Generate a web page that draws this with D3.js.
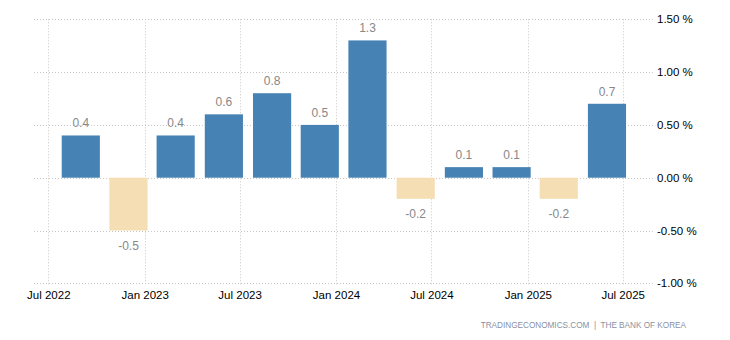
<!DOCTYPE html>
<html>
<head>
<meta charset="utf-8">
<script src="https://cdn.jsdelivr.net/npm/d3@7"></script>
<style>
  html, body { margin: 0; padding: 0; background: #fff; }
  svg { display: block; font-family: "Liberation Sans", Arial, sans-serif; }
</style>
</head>
<body>
<svg id="chart" width="730" height="340"></svg>
<script>
// Quarterly GDP growth rate, South Korea (QoQ, %)
const quarters = ["2022Q3", "2022Q4", "2023Q1", "2023Q2", "2023Q3", "2023Q4",
                  "2024Q1", "2024Q2", "2024Q3", "2024Q4", "2025Q1", "2025Q2"];
const growth = [0.4, -0.5, 0.4, 0.6, 0.8, 0.5, 1.3, -0.2, 0.1, 0.1, -0.2, 0.7];
const xTickDates = ["2022-07-01", "2023-01-01", "2023-07-01", "2024-01-01",
                    "2024-07-01", "2025-01-01", "2025-07-01"];
const xTickLabels = ["Jul 2022", "Jan 2023", "Jul 2023", "Jan 2024",
                     "Jul 2024", "Jan 2025", "Jul 2025"];
const yTicks = [-1.0, -0.5, 0.0, 0.5, 1.0, 1.5];
const sourceText = "TRADINGECONOMICS.COM  |  THE BANK OF KOREA";

// each quarter's bar is centred on the first day of its last month
function quarterDate(q) {
  const year = +q.slice(0, 4), n = +q.slice(5);
  return new Date(Date.UTC(year, n * 3 - 1, 1));
}

// plain hyphen for negatives
const fmt = spec => { const f = d3.format(spec); return v => f(v).replace("\u2212", "-"); };
const fmt1 = fmt(".1f");
const fmt2 = fmt(".2f");

const data = quarters.map((q, i) => ({ q, date: quarterDate(q), v: growth[i] }));
const tickDates = xTickDates.map(s => new Date(s + "T00:00:00Z"));

const svg = d3.select("#chart");
const plot = { left: 34, right: 653, top: 19.3, bottom: 283.3 };

const x = d3.scaleUtc()
  .domain([tickDates[0], tickDates[tickDates.length - 1]])
  .range([48.3, 622.7]);
const y = d3.scaleLinear()
  .domain([d3.min(yTicks), d3.max(yTicks)])
  .range([plot.bottom, plot.top]);

const step = x(data[1].date) - x(data[0].date);
const barW = step * 0.8;

const gridColor = "#c8c8c8";

// horizontal grid
svg.append("g").selectAll("line").data(yTicks).join("line")
  .attr("x1", plot.left).attr("x2", plot.right)
  .attr("y1", d => Math.round(y(d)) + 0.5).attr("y2", d => Math.round(y(d)) + 0.5)
  .attr("stroke", gridColor).attr("stroke-width", 1)
  .attr("stroke-dasharray", "1,2");

// vertical grid at tick dates
svg.append("g").selectAll("line").data(tickDates).join("line")
  .attr("x1", d => Math.round(x(d)) + 0.5).attr("x2", d => Math.round(x(d)) + 0.5)
  .attr("y1", plot.top).attr("y2", plot.bottom + 1)
  .attr("stroke", gridColor).attr("stroke-width", 1)
  .attr("stroke-dasharray", "1,2");

// bars
svg.append("g").selectAll("rect").data(data).join("rect")
  .attr("x", d => x(d.date) - barW / 2)
  .attr("width", barW)
  .attr("y", d => y(Math.max(0, d.v)))
  .attr("height", d => Math.abs(y(d.v) - y(0)))
  .attr("fill", d => d.v >= 0 ? "#4682b4" : "#f5deb3");

// value labels
svg.append("g").selectAll("text").data(data).join("text")
  .attr("x", d => x(d.date))
  .attr("y", d => d.v >= 0 ? y(d.v) - 8 : y(d.v) + 19)
  .attr("text-anchor", "middle")
  .attr("font-size", 12)
  .attr("fill", "#888")
  .text(d => fmt1(d.v));

// right value axis
const yAxis = d3.axisRight(y).tickValues(yTicks).tickSize(0).tickPadding(0)
  .tickFormat(d => fmt2(d) + " %");
svg.append("g").attr("transform", `translate(657,0)`).call(yAxis)
  .call(g => g.select(".domain").remove())
  .call(g => g.selectAll("text")
    .attr("font-size", 11.5).attr("fill", "#000")
    .attr("font-family", "'Liberation Sans', Arial, sans-serif"));

// bottom time axis
const xAxis = d3.axisBottom(x).tickValues(tickDates).tickSize(0).tickPadding(0)
  .tickFormat((d, i) => xTickLabels[i]);
svg.append("g").attr("transform", `translate(0,${plot.bottom + 6})`).call(xAxis)
  .call(g => g.select(".domain").remove())
  .call(g => g.selectAll("text")
    .attr("dy", "0.85em")
    .attr("font-size", 11.5).attr("fill", "#000")
    .attr("font-family", "'Liberation Sans', Arial, sans-serif"));

// source line
svg.append("text")
  .attr("x", 686).attr("y", 328)
  .attr("text-anchor", "end")
  .attr("font-size", 8.2)
  .attr("fill", "#8a8fa3")
  .style("white-space", "pre")
  .text(sourceText);
</script>
</body>
</html>
